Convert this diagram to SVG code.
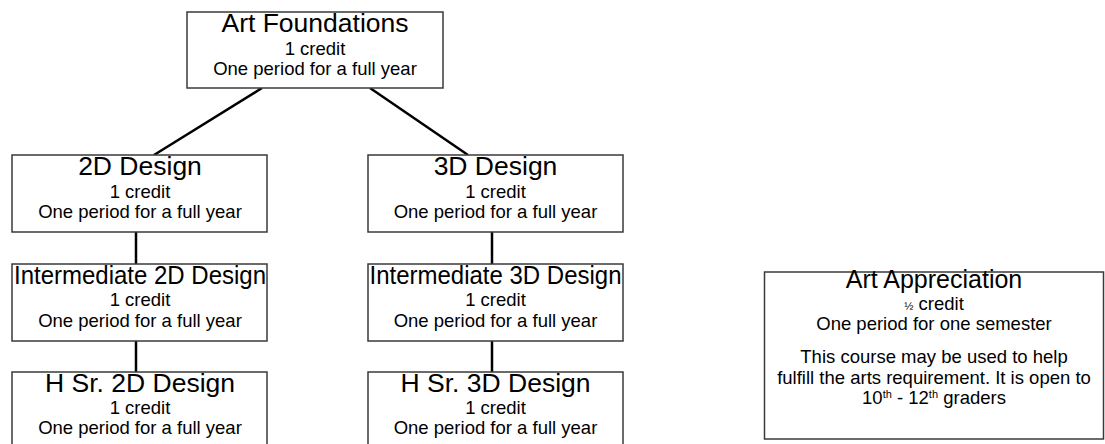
<svg xmlns="http://www.w3.org/2000/svg" width="1105" height="444" viewBox="0 0 1105 444">
<style>
.box{fill:#fff;stroke:#3a3a3a;stroke-width:1.5}
.t{font-family:"Liberation Sans",Arial,sans-serif;fill:#000;text-anchor:middle}
.h{font-size:26.5px}
.s{font-size:18.5px}
.c{stroke:#000;stroke-width:2.5;fill:none}
</style>
<rect width="1105" height="444" fill="#fff"/>
<g id="connectors">
<line class="c" x1="262" y1="88" x2="154" y2="155"/>
<line class="c" x1="370" y1="88" x2="468" y2="155"/>
<line class="c" x1="136" y1="232" x2="136" y2="264"/>
<line class="c" x1="136" y1="341" x2="136" y2="372"/>
<line class="c" x1="492" y1="232" x2="492" y2="264"/>
<line class="c" x1="492" y1="341" x2="492" y2="372"/>
</g>
<g id="art-foundations">
<rect class="box" x="187" y="12" width="256" height="76"/>
<text class="t h" x="315" y="32">Art Foundations</text>
<text class="t s" x="315" y="55">1 credit</text>
<text class="t s" x="315" y="75">One period for a full year</text>
</g>
<g id="design-2d">
<rect class="box" x="12" y="155" width="255" height="77"/>
<text class="t h" x="140" y="174.5">2D Design</text>
<text class="t s" x="140" y="197.5">1 credit</text>
<text class="t s" x="140" y="218">One period for a full year</text>
</g>
<g id="design-3d">
<rect class="box" x="368" y="155" width="255" height="77"/>
<text class="t h" x="495.5" y="174.5">3D Design</text>
<text class="t s" x="495.5" y="197.5">1 credit</text>
<text class="t s" x="495.5" y="218">One period for a full year</text>
</g>
<g id="intermediate-2d">
<rect class="box" x="12" y="264" width="255" height="77"/>
<text class="t h" x="140" y="283.5" textLength="252" lengthAdjust="spacingAndGlyphs">Intermediate 2D Design</text>
<text class="t s" x="140" y="306">1 credit</text>
<text class="t s" x="140" y="327">One period for a full year</text>
</g>
<g id="intermediate-3d">
<rect class="box" x="368" y="264" width="255" height="77"/>
<text class="t h" x="495.5" y="283.5" textLength="252" lengthAdjust="spacingAndGlyphs">Intermediate 3D Design</text>
<text class="t s" x="495.5" y="306">1 credit</text>
<text class="t s" x="495.5" y="327">One period for a full year</text>
</g>
<g id="hsr-2d">
<rect class="box" x="12" y="372" width="255" height="90"/>
<text class="t h" x="140" y="392">H Sr. 2D Design</text>
<text class="t s" x="140" y="414">1 credit</text>
<text class="t s" x="140" y="434">One period for a full year</text>
</g>
<g id="hsr-3d">
<rect class="box" x="368" y="372" width="255" height="90"/>
<text class="t h" x="495.5" y="392">H Sr. 3D Design</text>
<text class="t s" x="495.5" y="414">1 credit</text>
<text class="t s" x="495.5" y="434">One period for a full year</text>
</g>
<g id="art-appreciation">
<rect class="box" x="764.5" y="272" width="339" height="167"/>
<text class="t" font-size="25" x="934" y="288">Art Appreciation</text>
<text class="t s" x="934" y="310"><tspan font-size="11">½</tspan> credit</text>
<text class="t s" x="934" y="330">One period for one semester</text>
<text class="t s" x="934" y="363">This course may be used to help</text>
<text class="t s" x="934" y="384">fulfill the arts requirement. It is open to</text>
<text class="t s" x="934" y="404">10<tspan font-size="11" dy="-6">th</tspan><tspan dy="6"> - 12</tspan><tspan font-size="11" dy="-6">th</tspan><tspan dy="6"> graders</tspan></text>
</g>
</svg>
